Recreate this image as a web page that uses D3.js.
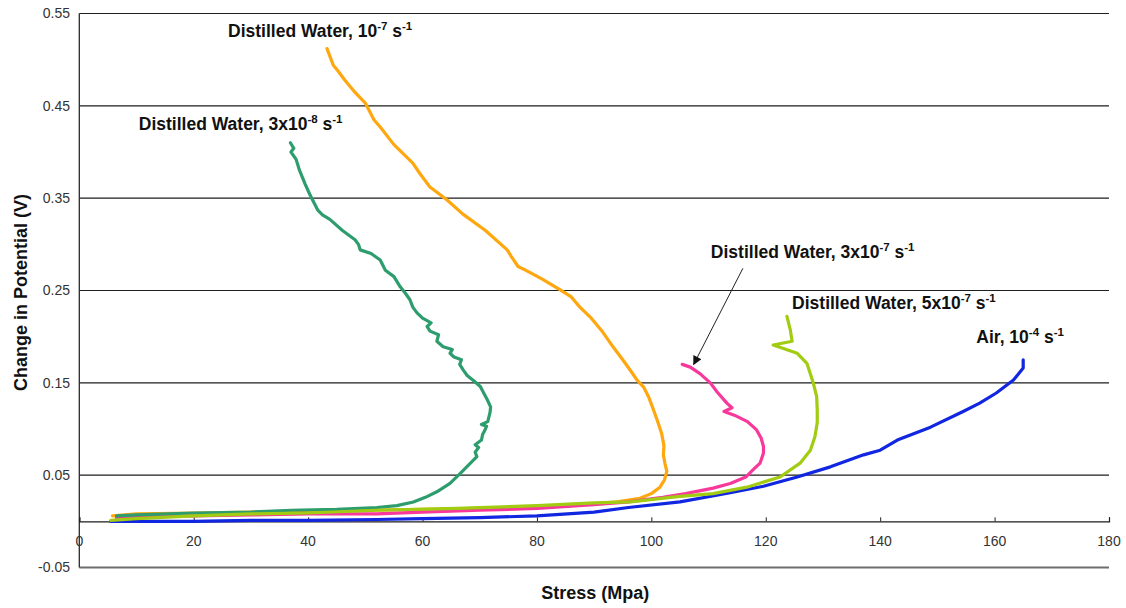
<!DOCTYPE html>
<html>
<head>
<meta charset="utf-8">
<script src="https://cdn.jsdelivr.net/npm/d3@7/dist/d3.min.js"></script>
<style>
  html, body { margin: 0; padding: 0; background: #fff; }
  svg { display: block; font-family: "Liberation Sans", Arial, sans-serif; }
</style>
</head>
<body>
<svg id="chart" width="1126" height="608"></svg>
<script>
// Stress (MPa) vs change in potential (V), one path per test condition
const airStress = [5.5, 20, 30, 40, 52, 60, 70, 80, 90, 96, 105, 113.8, 119.6, 125.5, 131.3, 137.1, 140, 143, 148.8, 154.5, 157.4, 160.3, 163.3, 165, 165];
const airPotential = [0.000, 0.000, 0.001, 0.001, 0.002, 0.003, 0.004, 0.006, 0.010, 0.015, 0.021, 0.031, 0.038, 0.048, 0.059, 0.072, 0.077, 0.088, 0.102, 0.119, 0.128, 0.139, 0.153, 0.166, 0.175];

const dw1e7Stress = [5.8, 10, 20, 30, 40, 50, 60, 70, 80, 88, 94, 98, 100, 101.5, 102.3, 102.7, 102.4, 102.1, 102.2, 101.8, 101.0, 100.3, 99.5, 98.7, 97.5, 96.5, 95.0, 93.3, 91.5, 89.5, 87.5, 86, 84, 81, 78, 76.7, 75.5, 74.8, 71, 67, 64.3, 61.3, 59.5, 58.3, 55, 52.6, 51.5, 50, 48, 46.4, 45.2, 44.4, 43.3];
const dw1e7Potential = [0.006, 0.008, 0.009, 0.010, 0.011, 0.012, 0.013, 0.014, 0.016, 0.018, 0.021, 0.025, 0.030, 0.037, 0.045, 0.054, 0.062, 0.072, 0.082, 0.095, 0.110, 0.122, 0.135, 0.145, 0.153, 0.162, 0.175, 0.189, 0.205, 0.220, 0.232, 0.243, 0.251, 0.262, 0.272, 0.276, 0.287, 0.294, 0.315, 0.333, 0.348, 0.362, 0.377, 0.388, 0.408, 0.427, 0.435, 0.453, 0.466, 0.478, 0.488, 0.494, 0.512];

const dw3e8Stress = [6.5, 10, 20, 30, 37, 45, 52, 55.5, 58.4, 60.5, 62.5, 64.8, 66.6, 68.2, 69.5, 69.2, 69.8, 69.2, 70.3, 70.5, 71.0, 71.2, 70.3, 71.4, 71.8, 71.9, 71.3, 70.6, 70.1, 69.0, 67.8, 67.1, 66.5, 66.8, 65.5, 64.8, 65.2, 63.6, 62.5, 62.8, 61.3, 60.8, 61.5, 60.0, 59.0, 58.3, 57.8, 57.0, 56.1, 55.0, 53.5, 52.6, 51.0, 49.1, 48.8, 48.2, 46, 43.8, 42.5, 41.7, 40.3, 39.5, 38.5, 37.9, 37.0, 37.5, 36.9];
const dw3e8Potential = [0.006, 0.007, 0.009, 0.010, 0.012, 0.013, 0.015, 0.017, 0.021, 0.026, 0.032, 0.041, 0.052, 0.062, 0.070, 0.075, 0.080, 0.083, 0.088, 0.094, 0.100, 0.103, 0.105, 0.108, 0.118, 0.124, 0.132, 0.140, 0.146, 0.152, 0.158, 0.164, 0.170, 0.175, 0.178, 0.182, 0.186, 0.189, 0.195, 0.202, 0.206, 0.211, 0.215, 0.220, 0.226, 0.232, 0.240, 0.247, 0.254, 0.265, 0.272, 0.283, 0.290, 0.294, 0.300, 0.305, 0.315, 0.327, 0.332, 0.337, 0.354, 0.365, 0.380, 0.392, 0.400, 0.404, 0.410];

const dw3e7Stress = [6.5, 10, 20, 30, 40, 52, 60, 70, 80, 90, 96, 102, 106, 110.8, 113.8, 116.5, 117.8, 119, 119.6, 119.6, 119.2, 118.4, 116.8, 114.5, 112.7, 114.1, 113.2, 111.5, 110.3, 108.5, 106.8, 105.4];
const dw3e7Potential = [0.004, 0.005, 0.006, 0.007, 0.008, 0.008, 0.010, 0.012, 0.014, 0.018, 0.021, 0.026, 0.030, 0.036, 0.041, 0.048, 0.056, 0.063, 0.074, 0.081, 0.090, 0.099, 0.108, 0.115, 0.119, 0.123, 0.128, 0.140, 0.150, 0.160, 0.167, 0.170];

const dw5e7Stress = [5.5, 10, 20, 30, 40, 52, 66, 80, 90, 96.3, 105, 110.8, 116.7, 122.5, 126, 127.8, 128.6, 129, 129, 128.9, 128.3, 127.2, 125.5, 121.3, 124.6, 124.3, 123.7];
const dw5e7Potential = [0.001, 0.003, 0.006, 0.008, 0.009, 0.012, 0.014, 0.017, 0.020, 0.021, 0.027, 0.030, 0.037, 0.048, 0.063, 0.077, 0.092, 0.107, 0.120, 0.135, 0.150, 0.171, 0.182, 0.191, 0.195, 0.207, 0.222];

// Axis tick values
const xTicks = [0, 20, 40, 60, 80, 100, 120, 140, 160, 180];
const yTickLabels = ["0.55", "0.45", "0.35", "0.25", "0.15", "0.05", "-0.05"];
const gridValues = [0.55, 0.45, 0.35, 0.25, 0.15, 0.05];

// Series labels: [base text, superscript, middle, superscript]; anchor in data units
const seriesNames = ["Air", "DW 1e-7", "DW 3e-8", "DW 3e-7", "DW 5e-7"];
const seriesColors = ["#1026e0", "#ffa70f", "#2e9d6e", "#f8389a", "#a1cc12"];
const labelParts = [
  ["Air, 10", "-4", " s", "-1"],
  ["Distilled Water, 10", "-7", " s", "-1"],
  ["Distilled Water, 3x10", "-8", " s", "-1"],
  ["Distilled Water, 3x10", "-7", " s", "-1"],
  ["Distilled Water, 5x10", "-7", " s", "-1"]
];
const labelStress = [156.8, 26.0, 10.4, 110.4, 124.6];
const labelPotential = [0.193, 0.525, 0.424, 0.285, 0.230];
// Arrow pointing from the 3x10^-7 label to its curve
const arrowFrom = [116.0, 0.274];
const arrowTo = [107.4, 0.170];

const series = [
  [airStress, airPotential],
  [dw1e7Stress, dw1e7Potential],
  [dw3e8Stress, dw3e8Potential],
  [dw3e7Stress, dw3e7Potential],
  [dw5e7Stress, dw5e7Potential]
].map(([xs, ys], i) => ({
  name: seriesNames[i],
  color: seriesColors[i],
  points: xs.map((x, j) => ({ x, y: ys[j] }))
}));

const svg = d3.select("#chart");
const x = d3.scaleLinear().domain([0, 180]).range([79.3, 1109]);
const y = d3.scaleLinear().domain([-0.05, 0.55]).range([567.5, 13.5]);

// Horizontal grid lines
svg.append("g").selectAll("line").data(gridValues).join("line")
  .attr("x1", x(0)).attr("x2", x(180))
  .attr("y1", d => y(d)).attr("y2", d => y(d))
  .attr("stroke", "#1e1e1e").attr("stroke-width", 1.2);

// Bottom frame line
svg.append("line")
  .attr("x1", x(0)).attr("x2", x(180))
  .attr("y1", y(-0.05)).attr("y2", y(-0.05))
  .attr("stroke", "#6e6e6e").attr("stroke-width", 2);

// Y axis line
svg.append("line")
  .attr("x1", x(0)).attr("x2", x(0))
  .attr("y1", y(0.55)).attr("y2", y(-0.05))
  .attr("stroke", "#2a2a2a").attr("stroke-width", 1.3);

// X axis through zero with upward ticks
const xAxis = d3.axisTop(x).tickValues(xTicks).tickSize(4).tickFormat("");
const xg = svg.append("g").attr("transform", `translate(0,${y(0)})`).call(xAxis);
xg.select(".domain").attr("stroke", "#1e1e1e").attr("stroke-width", 1.2);
xg.selectAll(".tick line").attr("stroke", "#1e1e1e");

// X tick labels below the zero line
svg.append("g").selectAll("text").data(xTicks).join("text")
  .attr("x", d => x(d)).attr("y", y(0) + 25)
  .attr("text-anchor", "middle")
  .attr("font-size", 14).attr("fill", "#333")
  .text(d => d);

// Y tick labels
svg.append("g").selectAll("text").data(yTickLabels).join("text")
  .attr("x", 70).attr("y", d => y(+d))
  .attr("dy", "0.35em")
  .attr("text-anchor", "end")
  .attr("font-size", 14).attr("fill", "#333")
  .text(d => d);

// Axis titles
svg.append("text")
  .attr("x", (x(0) + x(180)) / 2 + 1).attr("y", 599)
  .attr("text-anchor", "middle")
  .attr("font-size", 18).attr("font-weight", "bold").attr("fill", "#111")
  .text("Stress (Mpa)");

svg.append("text")
  .attr("transform", `translate(27,${(y(0.55) + y(-0.05)) / 2 + 2}) rotate(-90)`)
  .attr("text-anchor", "middle")
  .attr("font-size", 18).attr("font-weight", "bold").attr("fill", "#111")
  .text("Change in Potential (V)");

// Data curves
const line = d3.line().x(d => x(d.x)).y(d => y(d.y));
const drawOrder = [0, 1, 3, 2, 4];
svg.append("g").selectAll("path").data(drawOrder.map(i => series[i])).join("path")
  .attr("d", d => line(d.points))
  .attr("fill", "none")
  .attr("stroke", d => d.color)
  .attr("stroke-width", 3.2)
  .attr("stroke-linejoin", "round")
  .attr("stroke-linecap", "round");

// Curve labels with superscript exponents
const labels = svg.append("g");
labelParts.forEach((parts, i) => {
  const t = labels.append("text")
    .attr("x", x(labelStress[i])).attr("y", y(labelPotential[i]))
    .attr("font-size", 17.5).attr("font-weight", "bold").attr("fill", "#111");
  t.append("tspan").text(parts[0]);
  t.append("tspan").attr("dy", -7).attr("font-size", 11.5).text(parts[1]);
  t.append("tspan").attr("dy", 7).text(parts[2]);
  t.append("tspan").attr("dy", -7).attr("font-size", 11.5).text(parts[3]);
});

// Arrow
svg.append("defs").append("marker")
  .attr("id", "arrowhead")
  .attr("viewBox", "0 0 10 10")
  .attr("refX", 9).attr("refY", 5)
  .attr("markerWidth", 11).attr("markerHeight", 9)
  .attr("markerUnits", "userSpaceOnUse")
  .attr("orient", "auto")
  .append("path").attr("d", "M0,0 L10,5 L0,10 Z").attr("fill", "#111");

svg.append("line")
  .attr("x1", x(arrowFrom[0])).attr("y1", y(arrowFrom[1]))
  .attr("x2", x(arrowTo[0])).attr("y2", y(arrowTo[1]))
  .attr("stroke", "#222").attr("stroke-width", 1)
  .attr("marker-end", "url(#arrowhead)");
</script>
</body>
</html>
